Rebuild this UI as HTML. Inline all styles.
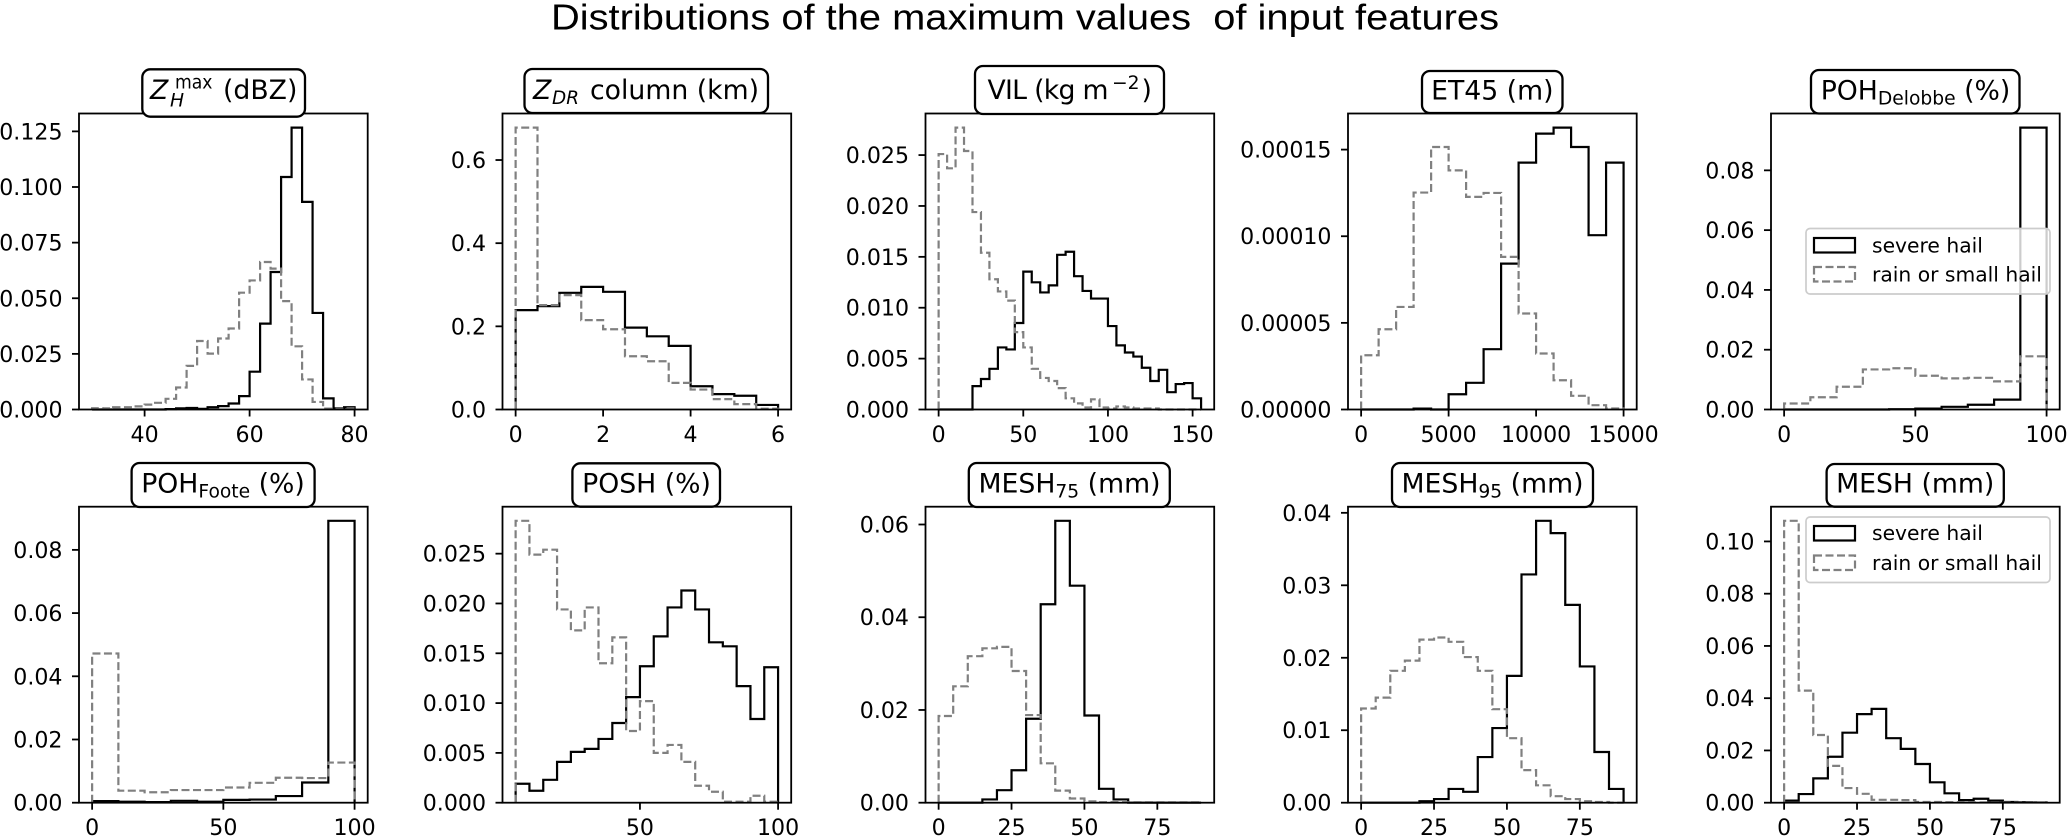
<!DOCTYPE html>
<html lang="en">
<head>
<meta charset="utf-8">
<title>Distributions of the maximum values of input features</title>
<style>
html,body{margin:0;padding:0;background:#fff;width:2067px;height:837px;overflow:hidden}
svg{display:block}
text{font-family:"DejaVu Sans",sans-serif;fill:#000}
.panel-title{font-size:26.7px;text-anchor:middle}
.title-box{fill:#fff;stroke:#000;stroke-width:2.3}
.legend-label{font-size:20.3px}
</style>
</head>
<body>
<svg id="figure" xmlns="http://www.w3.org/2000/svg" width="2067" height="837" viewBox="0 0 2067 837">
  <rect width="2067" height="837" fill="#fff"/>
  <text x="551" y="29.5" textLength="948" lengthAdjust="spacingAndGlyphs" style="font-family:'Liberation Sans',sans-serif;font-size:36px;white-space:pre" xml:space="preserve">Distributions of the maximum values  of input features</text>

  <g id="axes-layer"></g>

  <g>
    <rect class="title-box" x="142.3" y="69.3" width="162.7" height="47.4" rx="8"/>
    <text x="150" y="99" style="font-size:26.7px;font-style:italic">Z</text>
    <text x="170" y="106.7" style="font-size:18.7px;font-style:italic">H</text>
    <text x="175" y="88.3" textLength="37.5" lengthAdjust="spacingAndGlyphs" style="font-size:18.7px">max</text>
    <text x="223" y="99" style="font-size:26.7px">(dBZ)</text>
  </g>
  <g>
    <rect class="title-box" x="524.5" y="69" width="243.5" height="44" rx="8"/>
    <text x="533" y="99" style="font-size:26.7px;font-style:italic">Z</text>
    <text x="552" y="104" textLength="27" lengthAdjust="spacingAndGlyphs" style="font-size:18.7px;font-style:italic">DR</text>
    <text x="590" y="99" style="font-size:26.7px">column (km)</text>
  </g>
  <g>
    <rect class="title-box" x="975" y="66" width="189" height="48" rx="8"/>
    <text x="987.5" y="99" textLength="121" lengthAdjust="spacing" style="font-size:26.7px">VIL (kg m</text>
    <text x="1112" y="89" style="font-size:18.7px">−2</text>
    <text x="1141.5" y="99" style="font-size:26.7px">)</text>
  </g>
  <g>
    <rect class="title-box" x="1422" y="71" width="140.5" height="42" rx="8"/>
    <text class="panel-title" x="1492.3" y="99.5">ET45 (m)</text>
  </g>
  <g>
    <rect class="title-box" x="1811" y="70" width="208.5" height="43.5" rx="8"/>
    <text class="panel-title" x="1915.5" y="99.5">POH<tspan dy="5" style="font-size:18.7px">Delobbe</tspan><tspan dy="-5"> (%)</tspan></text>
  </g>
  <g>
    <rect class="title-box" x="131.6" y="463" width="183" height="44" rx="8"/>
    <text class="panel-title" x="223" y="492.7">POH<tspan dy="5" style="font-size:18.7px">Foote</tspan><tspan dy="-5"> (%)</tspan></text>
  </g>
  <g>
    <rect class="title-box" x="572.4" y="463.3" width="147.6" height="43.4" rx="8"/>
    <text class="panel-title" x="646.5" y="492.7">POSH (%)</text>
  </g>
  <g>
    <rect class="title-box" x="968.8" y="463" width="201" height="44" rx="8"/>
    <text class="panel-title" x="1069.5" y="492.7">MESH<tspan dy="5" style="font-size:18.7px">75</tspan><tspan dy="-5"> (mm)</tspan></text>
  </g>
  <g>
    <rect class="title-box" x="1392" y="463" width="201" height="44" rx="8"/>
    <text class="panel-title" x="1492.5" y="492.7">MESH<tspan dy="5" style="font-size:18.7px">95</tspan><tspan dy="-5"> (mm)</tspan></text>
  </g>
  <g>
    <rect class="title-box" x="1826.6" y="464" width="177.2" height="42.7" rx="8"/>
    <text class="panel-title" x="1915.2" y="492.7">MESH (mm)</text>
  </g>

  <g>
    <rect x="1806" y="228.5" width="244" height="65.5" rx="4" fill="#fff" fill-opacity="0.8" stroke="#ccc" stroke-width="1.7"/>
    <rect x="1814" y="238" width="41" height="14.5" fill="none" stroke="#000" stroke-width="2.2"/>
    <text class="legend-label" x="1872" y="252.3">severe hail</text>
    <rect x="1814" y="267" width="41" height="14.5" fill="none" stroke="#808080" stroke-width="2.2" stroke-dasharray="8,3.5"/>
    <text class="legend-label" x="1872" y="281.7">rain or small hail</text>
  </g>
  <g>
    <rect x="1806" y="517" width="244" height="65.5" rx="4" fill="#fff" fill-opacity="0.8" stroke="#ccc" stroke-width="1.7"/>
    <rect x="1814" y="526" width="41" height="14.5" fill="none" stroke="#000" stroke-width="2.2"/>
    <text class="legend-label" x="1872" y="540">severe hail</text>
    <rect x="1814" y="555.5" width="41" height="14.5" fill="none" stroke="#808080" stroke-width="2.2" stroke-dasharray="8,3.5"/>
    <text class="legend-label" x="1872" y="570">rain or small hail</text>
  </g>
</svg>

<script>
// Histogram bins: first edge, bin width
const zhBins = [30, 2];
const zhSevere = [0,0,0,0,0,0,0,0.0002,0.0005,0.0007,0.0003,0.001,0.0015,0.0027,0.006,0.017,0.0386,0.0618,0.1045,0.1267,0.0933,0.0434,0.005,0.0005,0.001];
const zhRain = [0.0006,0.0005,0.001,0.001,0.0014,0.0022,0.003,0.0048,0.0099,0.0196,0.0308,0.0251,0.0319,0.0364,0.0525,0.058,0.0663,0.0633,0.0487,0.0284,0.0135,0.0034,0.0004,0.0003,0.0005];
const zhXTicks = ['40','60','80'];
const zhYTicks = ['0.000','0.025','0.050','0.075','0.100','0.125'];

const zdrBins = [0, 0.5];
const zdrSevere = [0.239,0.2486,0.2807,0.295,0.283,0.197,0.176,0.153,0.056,0.037,0.033,0.011];
const zdrRain = [0.678,0.251,0.275,0.215,0.193,0.128,0.116,0.064,0.048,0.025,0.013,0.002];
const zdrXTicks = ['0','2','4','6'];
const zdrYTicks = ['0.0','0.2','0.4','0.6'];

const vilBins = [0, 5];
const vilSevere = [0,0,0,0,0.0023,0.003,0.004,0.0061,0.0059,0.0085,0.01355,0.0125,0.0115,0.0122,0.0152,0.0155,0.0131,0.01165,0.0109,0.0109,0.0082,0.0063,0.0056,0.0052,0.0041,0.0028,0.0039,0.0017,0.0025,0.0026,0.0011];
const vilRain = [0.0251,0.0237,0.0277,0.0254,0.0194,0.0154,0.0128,0.0116,0.0107,0.0076,0.0061,0.004,0.0031,0.0028,0.0021,0.0011,0.0006,0.0002,0.001,0.0002,0.0001,0.0003,0.0002,0.0001,0.0001,0.0001,0,0,0,0,0];
const vilXTicks = ['0','50','100','150'];
const vilYTicks = ['0.000','0.005','0.010','0.015','0.020','0.025'];

const et45Bins = [0, 1000];
const et45Severe = [0,0,0,0.0000005,0,0.0000088,0.0000154,0.0000348,0.0000842,0.0001425,0.0001592,0.0001627,0.0001515,0.0001006,0.0001425];
const et45Rain = [0.0000313,0.0000463,0.0000592,0.0001252,0.0001515,0.000138,0.0001227,0.000125,0.0000881,0.0000554,0.0000323,0.0000169,0.0000079,0.0000025,0.0000006];
const et45XTicks = ['0','5000','10000','15000'];
const et45YTicks = ['0.00000','0.00005','0.00010','0.00015'];

const delobbeBins = [0, 10];
const delobbeSevere = [0,0,0,0,0.0001,0.0003,0.0009,0.0016,0.0033,0.0943];
const delobbeRain = [0.002,0.0041,0.0076,0.0134,0.0138,0.0113,0.0104,0.0106,0.0094,0.0178];
const delobbeXTicks = ['0','50','100'];
const delobbeYTicks = ['0.00','0.02','0.04','0.06','0.08'];

const footeBins = [0, 10];
const footeSevere = [0.0005,0.0003,0.0002,0.0006,0.0003,0.0009,0.001,0.0021,0.0064,0.0892];
const footeRain = [0.0472,0.0038,0.0033,0.004,0.004,0.0048,0.0063,0.0079,0.0078,0.0127];
const footeXTicks = ['0','50','100'];
const footeYTicks = ['0.00','0.02','0.04','0.06','0.08'];

const poshBins = [5, 5];
const poshSevere = [0.0019,0.0012,0.0023,0.0041,0.0051,0.0054,0.0064,0.008,0.0106,0.0137,0.0167,0.0196,0.0213,0.0194,0.0161,0.0157,0.0117,0.0084,0.0136];
const poshRain = [0.0283,0.0249,0.0254,0.0194,0.0173,0.0196,0.014,0.0166,0.0072,0.0102,0.005,0.0058,0.0041,0.0017,0.0011,0.0001,0.0001,0.0007,0.0001];
const poshXTicks = ['50','100'];
const poshYTicks = ['0.000','0.005','0.010','0.015','0.020','0.025'];

const mesh75Bins = [0, 5];
const mesh75Severe = [0,0,0,0.0007,0.0027,0.007,0.0181,0.0428,0.0608,0.0468,0.0188,0.003,0.0007,0,0,0,0,0];
const mesh75Rain = [0.0187,0.0251,0.0316,0.0333,0.0336,0.0284,0.0189,0.0085,0.0026,0.0009,0.0003,0.0001,0.0001,0.0001,0.0001,0.0001,0.0001,0.0001];
const mesh75XTicks = ['0','25','50','75'];
const mesh75YTicks = ['0.00','0.02','0.04','0.06'];

const mesh95Bins = [0, 5];
const mesh95Severe = [0,0,0,0,0.0002,0.0005,0.0019,0.0015,0.0063,0.0103,0.0175,0.0315,0.0389,0.0372,0.0273,0.0188,0.007,0.0019];
const mesh95Rain = [0.013,0.0145,0.0182,0.0196,0.0225,0.0228,0.0222,0.0201,0.0182,0.0129,0.0089,0.0045,0.0024,0.0009,0.0005,0.0002,0.0001,0];
const mesh95XTicks = ['0','25','50','75'];
const mesh95YTicks = ['0.00','0.01','0.02','0.03','0.04'];

const meshBins = [0, 5];
const meshSevere = [0.0008,0.0033,0.0093,0.0176,0.0268,0.0339,0.0359,0.0247,0.0206,0.0148,0.0078,0.0036,0.001,0.0015,0.0008,0.0003,0.0002,0.0001];
const meshRain = [0.1079,0.0429,0.0259,0.0141,0.0056,0.0034,0.0011,0.0011,0.001,0.0003,0.0003,0.0002,0.0001,0.0001,0.0001,0.0001,0.0001,0.0001];
const meshXTicks = ['0','25','50','75'];
const meshYTicks = ['0.00','0.02','0.04','0.06','0.08','0.10'];

const panels = [
  {id:'zh-max', bins:zhBins, severe:zhSevere, rain:zhRain, xTicks:zhXTicks, yTicks:zhYTicks},
  {id:'zdr-column', bins:zdrBins, severe:zdrSevere, rain:zdrRain, xTicks:zdrXTicks, yTicks:zdrYTicks},
  {id:'vil', bins:vilBins, severe:vilSevere, rain:vilRain, xTicks:vilXTicks, yTicks:vilYTicks},
  {id:'et45', bins:et45Bins, severe:et45Severe, rain:et45Rain, xTicks:et45XTicks, yTicks:et45YTicks},
  {id:'poh-delobbe', bins:delobbeBins, severe:delobbeSevere, rain:delobbeRain, xTicks:delobbeXTicks, yTicks:delobbeYTicks},
  {id:'poh-foote', bins:footeBins, severe:footeSevere, rain:footeRain, xTicks:footeXTicks, yTicks:footeYTicks},
  {id:'posh', bins:poshBins, severe:poshSevere, rain:poshRain, xTicks:poshXTicks, yTicks:poshYTicks},
  {id:'mesh75', bins:mesh75Bins, severe:mesh75Severe, rain:mesh75Rain, xTicks:mesh75XTicks, yTicks:mesh75YTicks},
  {id:'mesh95', bins:mesh95Bins, severe:mesh95Severe, rain:mesh95Rain, xTicks:mesh95XTicks, yTicks:mesh95YTicks},
  {id:'mesh', bins:meshBins, severe:meshSevere, rain:meshRain, xTicks:meshXTicks, yTicks:meshYTicks}
];

const NS = 'http://www.w3.org/2000/svg';
const AXIS_LEFT = [79, 502.5, 925.5, 1348, 1771];
const AXIS_TOP = [113.5, 506.7];
const AXIS_W = 288.7;
const AXIS_H = 296;
const TICK_LEN = 7;
const TICK_FONT = 22.1;

function make(parent, tag, attrs) {
  const el = document.createElementNS(NS, tag);
  for (const k in attrs) el.setAttribute(k, attrs[k]);
  parent.appendChild(el);
  return el;
}

function stepPath(values, bins, xs, ys) {
  const start = bins[0], width = bins[1];
  let d = 'M' + xs(start).toFixed(2) + ' ' + ys(0).toFixed(2);
  values.forEach(function (v, i) {
    d += 'L' + xs(start + i * width).toFixed(2) + ' ' + ys(v).toFixed(2);
    d += 'L' + xs(start + (i + 1) * width).toFixed(2) + ' ' + ys(v).toFixed(2);
  });
  d += 'L' + xs(start + values.length * width).toFixed(2) + ' ' + ys(0).toFixed(2);
  return d;
}

const layer = document.getElementById('axes-layer');

panels.forEach(function (p, idx) {
  const left = AXIS_LEFT[idx % 5];
  const top = AXIS_TOP[Math.floor(idx / 5)];
  const bottom = top + AXIS_H;
  const n = Math.max(p.severe.length, p.rain.length);
  const lo = p.bins[0], hi = p.bins[0] + n * p.bins[1];
  const pad = (hi - lo) * 0.05;
  const xMin = lo - pad, xMax = hi + pad;
  const yMax = Math.max.apply(null, p.severe.concat(p.rain)) * 1.05;
  const xs = function (v) { return left + (v - xMin) / (xMax - xMin) * AXIS_W; };
  const ys = function (v) { return bottom - v / yMax * AXIS_H; };

  const g = make(layer, 'g', {});
  
  

  const severeLine = make(g, 'path', {d: stepPath(p.severe, p.bins, xs, ys), fill: 'none', stroke: '#000', 'stroke-width': 2.2, 'stroke-linejoin': 'miter'});
  
  

  const rainLine = make(g, 'path', {d: stepPath(p.rain, p.bins, xs, ys), fill: 'none', stroke: '#808080', 'stroke-width': 2.2, 'stroke-dasharray': '8,3.5'});
  
  

  const frame = make(g, 'rect', {x: left, y: top, width: AXIS_W, height: AXIS_H, fill: 'none', stroke: '#000', 'stroke-width': 1.8});
  
  

  p.xTicks.forEach(function (label) {
    const x = xs(parseFloat(label));
    const tick = make(g, 'line', {x1: x, x2: x, y1: bottom, y2: bottom + TICK_LEN, stroke: '#000', 'stroke-width': 1.8});
    
    
    const t = make(g, 'text', {x: x, y: bottom + 32.5, 'text-anchor': 'middle', 'font-size': TICK_FONT});
    
    
    t.textContent = label;
  });

  p.yTicks.forEach(function (label) {
    const y = ys(parseFloat(label));
    const tick = make(g, 'line', {x1: left - TICK_LEN, x2: left, y1: y, y2: y, stroke: '#000', 'stroke-width': 1.8});
    
    
    const t = make(g, 'text', {x: left - 16.5, y: y + 8, 'text-anchor': 'end', 'font-size': TICK_FONT});
    
    
    t.textContent = label;
  });
});
</script>
</body>
</html>
